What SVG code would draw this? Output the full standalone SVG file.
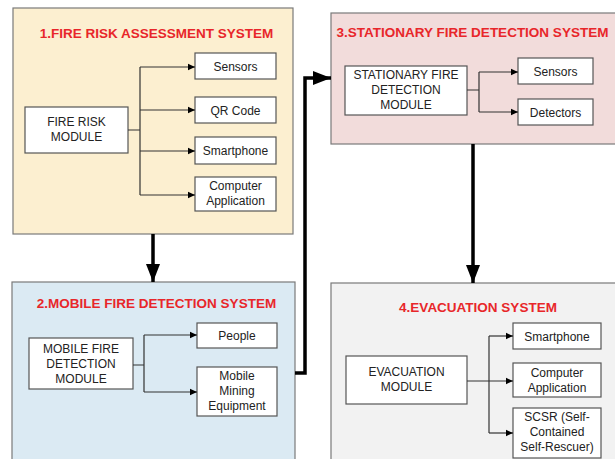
<svg xmlns="http://www.w3.org/2000/svg" width="615" height="459" viewBox="0 0 615 459">
<defs>
<style>
.panel{stroke:#7a7a7a;stroke-width:1.2}
.box{fill:#fff;stroke:#555;stroke-width:1.2}
.t{font-family:"Liberation Sans",Arial,sans-serif;font-size:12px;fill:#222;text-anchor:middle}
.title{font-family:"Liberation Sans",Arial,sans-serif;font-size:13.5px;font-weight:bold;fill:#e8262a;text-anchor:middle}
.ln{fill:none;stroke:#333;stroke-width:1.2}
.big{fill:none;stroke:#000;stroke-width:3.5}
</style>
<marker id="a" markerUnits="userSpaceOnUse" markerWidth="8" markerHeight="8" refX="7" refY="4" orient="auto"><path d="M0,0.8 L7,4 L0,7.2 Z" fill="#000"/></marker>
<marker id="A" markerUnits="userSpaceOnUse" markerWidth="20" markerHeight="14" refX="18" refY="7" orient="auto"><path d="M0,0 L18,7 L0,14 Z" fill="#000"/></marker>
</defs>

<g id="panel1">
<rect class="panel" x="13" y="8" width="280" height="226" fill="#fcefd0"/>
<text class="title" x="156.5" y="38">1.FIRE RISK ASSESSMENT SYSTEM</text>
</g>
<g id="panel3">
<rect class="panel" x="331" y="13" width="290" height="131" fill="#f2dcdb"/>
<text class="title" x="472.5" y="37">3.STATIONARY FIRE DETECTION SYSTEM</text>
</g>
<g id="panel2">
<rect class="panel" x="12" y="282" width="283" height="190" fill="#dbeaf3"/>
<text class="title" x="156.5" y="308">2.MOBILE FIRE DETECTION SYSTEM</text>
</g>
<g id="panel4">
<rect class="panel" x="331" y="283" width="290" height="190" fill="#f2f2f2"/>
<text class="title" x="478" y="312">4.EVACUATION SYSTEM</text>
</g>

<g id="fire-risk-module"><rect class="box" x="25" y="107" width="103" height="46"/><text class="t" x="76.5" y="126">FIRE RISK</text><text class="t" x="76.5" y="141">MODULE</text></g>
<g id="sensors1"><rect class="box" x="195" y="53" width="81" height="26"/><text class="t" x="235.5" y="70.5">Sensors</text></g>
<g id="qrcode"><rect class="box" x="195" y="97" width="81" height="26"/><text class="t" x="235.5" y="114.5">QR Code</text></g>
<g id="smartphone1"><rect class="box" x="195" y="137" width="81" height="27"/><text class="t" x="235.5" y="155">Smartphone</text></g>
<g id="computer1"><rect class="box" x="195" y="177" width="81" height="34"/><text class="t" x="235.5" y="190">Computer</text><text class="t" x="235.5" y="205">Application</text></g>

<g id="stationary-module"><rect class="box" x="345" y="66" width="122" height="49"/><text class="t" x="406" y="79">STATIONARY FIRE</text><text class="t" x="406" y="94">DETECTION</text><text class="t" x="406" y="109">MODULE</text></g>
<g id="sensors3"><rect class="box" x="518" y="58" width="75" height="26"/><text class="t" x="555.5" y="75.5">Sensors</text></g>
<g id="detectors"><rect class="box" x="518" y="99" width="75" height="26"/><text class="t" x="555.5" y="116.5">Detectors</text></g>

<g id="mobile-module"><rect class="box" x="29" y="338" width="104" height="51"/><text class="t" x="81" y="353">MOBILE FIRE</text><text class="t" x="81" y="368">DETECTION</text><text class="t" x="81" y="382.5">MODULE</text></g>
<g id="people"><rect class="box" x="197" y="323" width="80" height="25"/><text class="t" x="237" y="340">People</text></g>
<g id="mining"><rect class="box" x="197" y="367" width="80" height="49"/><text class="t" x="237" y="380">Mobile</text><text class="t" x="237" y="395">Mining</text><text class="t" x="237" y="410">Equipment</text></g>

<g id="evacuation-module"><rect class="box" x="346" y="356" width="121" height="48"/><text class="t" x="406.5" y="376">EVACUATION</text><text class="t" x="406.5" y="391">MODULE</text></g>
<g id="smartphone4"><rect class="box" x="513" y="323" width="88" height="26"/><text class="t" x="557" y="340.5">Smartphone</text></g>
<g id="computer4"><rect class="box" x="513" y="363" width="88" height="34"/><text class="t" x="557" y="377">Computer</text><text class="t" x="557" y="391.5">Application</text></g>
<g id="scsr"><rect class="box" x="513" y="408" width="88" height="50"/><text class="t" x="557" y="421">SCSR (Self-</text><text class="t" x="557" y="436">Contained</text><text class="t" x="557" y="451">Self-Rescuer)</text></g>

<g id="connectors">
<path class="ln" d="M128,130 H140 M140,67 V195"/>
<path class="ln" d="M140,67 H195" marker-end="url(#a)"/>
<path class="ln" d="M140,110 H195" marker-end="url(#a)"/>
<path class="ln" d="M140,151 H195" marker-end="url(#a)"/>
<path class="ln" d="M140,195 H195" marker-end="url(#a)"/>

<path class="ln" d="M467,90 H479 M479,72 V112"/>
<path class="ln" d="M479,72 H518" marker-end="url(#a)"/>
<path class="ln" d="M479,112 H518" marker-end="url(#a)"/>

<path class="ln" d="M133,365 H144 M144,335 V392"/>
<path class="ln" d="M144,335 H197" marker-end="url(#a)"/>
<path class="ln" d="M144,392 H197" marker-end="url(#a)"/>

<path class="ln" d="M489,336 V433"/>
<path class="ln" d="M467,381 H513" marker-end="url(#a)"/>
<path class="ln" d="M489,336 H513" marker-end="url(#a)"/>
<path class="ln" d="M489,433 H513" marker-end="url(#a)"/>

<path class="big" d="M153,234 V282" marker-end="url(#A)"/>
<path class="big" d="M295,373 H305 V78 H331" marker-end="url(#A)"/>
<path class="big" d="M473,144 V283" marker-end="url(#A)"/>
</g>
</svg>
